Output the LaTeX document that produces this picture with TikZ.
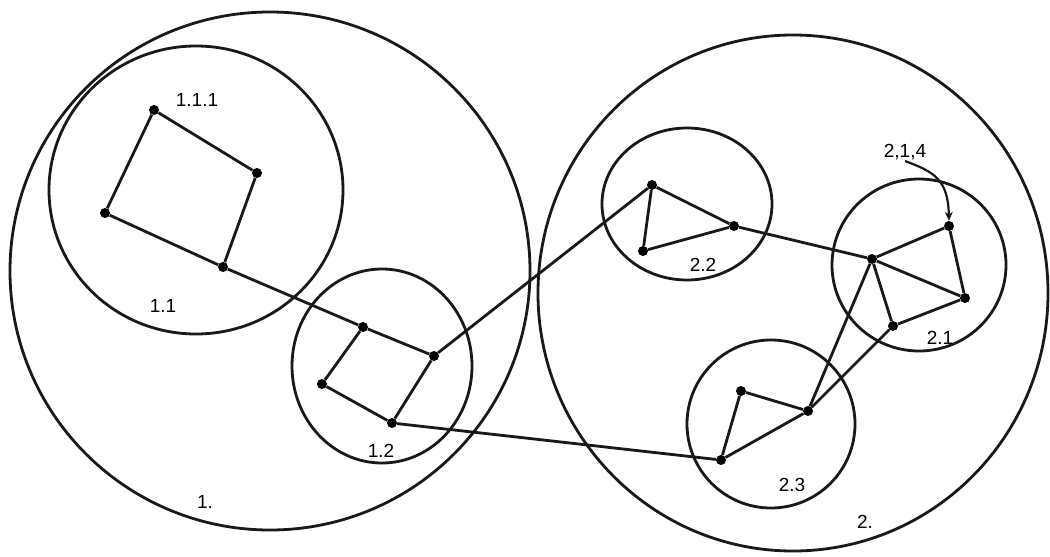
\documentclass[tikz,border=0pt]{standalone}
\usepackage{fontspec}
\setmainfont{Liberation Sans}
\usetikzlibrary{arrows.meta}
\begin{document}
\begin{tikzpicture}[x=1pt,y=-1pt,
  ring/.style={draw=black!90,line width=2.8pt},
  edge/.style={draw=black!90,line width=2.8pt},
  vtx/.style={circle,fill=black,inner sep=0pt,minimum size=10pt},
  lbl/.style={font=\fontsize{19}{21}\selectfont,inner sep=1pt}]
\useasboundingbox[fill=white] (0,0) rectangle (1050,557);
% clusters
\draw[ring] (270,271) ellipse [x radius=260, y radius=259];
\draw[ring] (793,293) ellipse [x radius=255, y radius=258];
\draw[ring] (196,190) ellipse [x radius=147, y radius=144];
\draw[ring] (382,366) ellipse [x radius=90, y radius=97];
\draw[ring] (687,204) ellipse [x radius=85, y radius=76];
\draw[ring] (919,265) ellipse [x radius=87, y radius=86];
\draw[ring] (771,424) ellipse [x radius=84, y radius=84];
% vertices
\node[vtx] (a1) at (154,110) {};
\node[vtx] (a2) at (257,173) {};
\node[vtx] (a3) at (223,267) {};
\node[vtx] (a4) at (105,213) {};
\node[vtx] (b1) at (363,327) {};
\node[vtx] (b2) at (434,356) {};
\node[vtx] (b3) at (392,423) {};
\node[vtx] (b4) at (322,384) {};
\node[vtx] (c1) at (652,185) {};
\node[vtx] (c2) at (734,226) {};
\node[vtx] (c3) at (643,251) {};
\node[vtx] (d1) at (872,259) {};
\node[vtx] (d2) at (949,226) {};
\node[vtx] (d3) at (965,298) {};
\node[vtx] (d4) at (893,326) {};
\node[vtx] (e1) at (741,391) {};
\node[vtx] (e2) at (808,411) {};
\node[vtx] (e3) at (721,460) {};
% edges
\draw[edge] (a1) -- (a2) -- (a3) -- (a4) -- (a1);
\draw[edge] (a3) -- (b1);
\draw[edge] (b1) -- (b2) -- (b3) -- (b4) -- (b1);
\draw[edge] (b2) -- (c1);
\draw[edge] (b3) -- (e3);
\draw[edge] (c1) -- (c2) -- (c3) -- (c1);
\draw[edge] (c2) -- (d1);
\draw[edge] (d1) -- (d2) -- (d3) -- (d1);
\draw[edge] (d1) -- (d4) -- (d3);
\draw[edge] (d1) -- (e2);
\draw[edge] (d4) -- (e2);
\draw[edge] (e1) -- (e2) -- (e3) -- (e1);
% labels
\node[lbl] (l111) at (197,100) {1.1.1};
\node[lbl] (l11) at (163,306) {1.1};
\node[lbl] (l12) at (381,451) {1.2};
\node[lbl] (l1) at (205,502) {1.};
\node[lbl] (l22) at (703,265) {2.2};
\node[lbl] (l214) at (905,152) {2,1,4};
\node[lbl] (l21) at (940,338) {2.1};
\node[lbl] (l23) at (792,485) {2.3};
\node[lbl] (l2) at (865,522) {2.};
\draw[edge,line width=2.2pt,-{Stealth[length=9pt,width=8pt]}]
  (l214.south) .. controls (935,172) and (948,180) .. (d2.north);
\end{tikzpicture}
\end{document}
